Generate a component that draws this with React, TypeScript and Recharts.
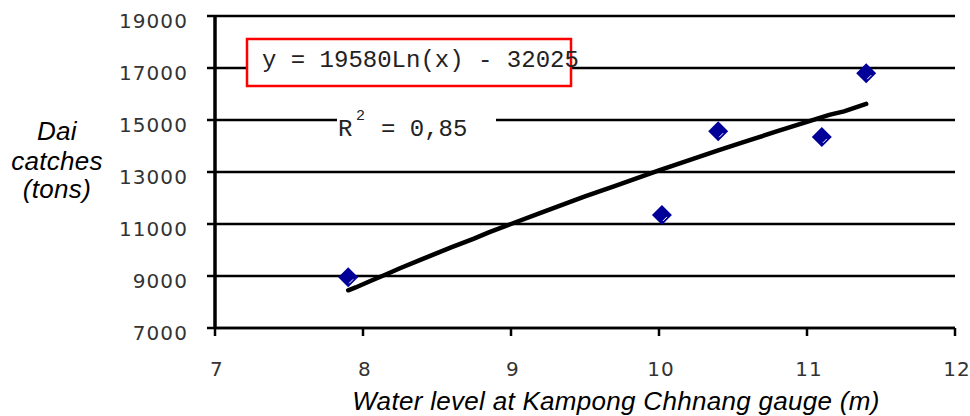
import React from 'react';
import { ComposedChart, Scatter, Line, XAxis, YAxis, CartesianGrid } from 'recharts';

// observed points: water level (m) vs Dai catches (tons)
const levels = [7.9, 10.02, 10.4, 11.1, 11.4];
const catches = [8950, 11350, 14570, 14350, 16800];

// trend line
const trendLevels = [7.9, 7.95, 8.05, 8.15, 8.25, 8.4, 8.5, 8.6, 8.75, 8.85, 9.0, 9.2, 9.4, 9.5, 9.7, 9.9, 10.0, 10.2, 10.4, 10.55, 10.65, 10.8, 11.0, 11.15, 11.25, 11.4];
const trendCatches = [8450, 8560, 8810, 9050, 9300, 9650, 9880, 10110, 10440, 10680, 11000, 11430, 11850, 12060, 12460, 12860, 13060, 13450, 13830, 14110, 14290, 14570, 14930, 15200, 15330, 15620];

const xTicks = [7, 8, 9, 10, 11, 12];
const yTicks = [7000, 9000, 11000, 13000, 15000, 17000, 19000];

const points = levels.map((x, i) => ({ x, y: catches[i] }));
const trend = trendLevels.map((x, i) => ({ x, y: trendCatches[i] }));

const tickFont = { fontFamily: 'DejaVu Sans', fontSize: 20, letterSpacing: 1.1, fill: '#333' };

const YTick = (props: any) => {
    const { x, y, payload } = props;
    return (
        <text x={x - 19} y={y + 12} textAnchor="end" style={tickFont}>
            {payload.value}
        </text>
    );
};

const XTick = (props: any) => {
    const { x, y, payload } = props;
    return (
        <text x={x + 2} y={y + 40} textAnchor="middle" style={tickFont}>
            {payload.value}
        </text>
    );
};

// 菱形マーカー
const Diamond = (props: any) => {
    const { cx, cy } = props;
    const r = 10;
    return (
        <g>
            <path d={`M${cx},${cy - r}L${cx + r},${cy}L${cx},${cy + r}L${cx - r},${cy}Z`} fill="#000099" />
            <line x1={cx + 1} y1={cy + 6} x2={cx + 5} y2={cy + 2} stroke="#fff" strokeWidth={1} />
        </g>
    );
};

const labelFont = { fontFamily: 'Liberation Sans, Arial, sans-serif', fontStyle: 'italic' as const, fill: '#000', letterSpacing: 0.3 };
const monoFont = { fontFamily: 'Liberation Mono, Courier New, monospace', fill: '#222' };

export default function App() {
    return (
        <div style={{ position: 'absolute', left: 0, top: 0, width: 970, height: 416, background: '#fff' }}>
            <ComposedChart width={970} height={416} margin={{ top: 16, right: 15, bottom: 28, left: 0 }}>
                <CartesianGrid vertical={false} stroke="#000" strokeWidth={2.5} />
                <XAxis
                    type="number"
                    dataKey="x"
                    domain={[7, 12]}
                    ticks={xTicks}
                    height={60}
                    tickSize={8}
                    tickMargin={0}
                    axisLine={{ stroke: '#000', strokeWidth: 2.5 }}
                    tickLine={{ stroke: '#000', strokeWidth: 2.5 }}
                    tick={<XTick />}
                    allowDataOverflow
                />
                <YAxis
                    type="number"
                    dataKey="y"
                    domain={[7000, 19000]}
                    ticks={yTicks}
                    width={215}
                    tickSize={8}
                    tickMargin={0}
                    axisLine={{ stroke: '#000', strokeWidth: 3.5 }}
                    tickLine={{ stroke: '#000', strokeWidth: 2.5 }}
                    tick={<YTick />}
                    allowDataOverflow
                />
                <Line
                    data={trend}
                    dataKey="y"
                    type="linear"
                    stroke="#000"
                    strokeWidth={4.5}
                    strokeLinecap="round"
                    dot={false}
                    isAnimationActive={false}
                />
                <Scatter data={points} dataKey="y" shape={<Diamond />} isAnimationActive={false} />
            </ComposedChart>
            <svg width={970} height={416} style={{ position: 'absolute', left: 0, top: 0, pointerEvents: 'none' }}>
                <rect x={247} y={39} width={324} height={47} fill="#fff" stroke="#ff0000" strokeWidth={2.5} />
                <text x={262} y={67} style={{ ...monoFont, fontSize: 24 }}>y = 19580Ln(x) - 32025</text>
                <rect x={337} y={104} width={159} height={40} fill="#fff" />
                <text x={338} y={136} style={{ ...monoFont, fontSize: 24 }}>R</text>
                <text x={356} y={120} style={{ ...monoFont, fontSize: 15 }}>2</text>
                <text x={381} y={136} style={{ ...monoFont, fontSize: 24 }}>= 0,85</text>
                <text textAnchor="middle" style={{ ...labelFont, fontSize: 26 }}>
                    <tspan x={57} y={140}>Dai</tspan>
                    <tspan x={57} y={170}>catches</tspan>
                    <tspan x={57} y={198}>(tons)</tspan>
                </text>
                <text x={616} y={410} textAnchor="middle" style={{ ...labelFont, fontSize: 26 }}>
                    Water level at Kampong Chhnang gauge (m)
                </text>
            </svg>
        </div>
    );
}
